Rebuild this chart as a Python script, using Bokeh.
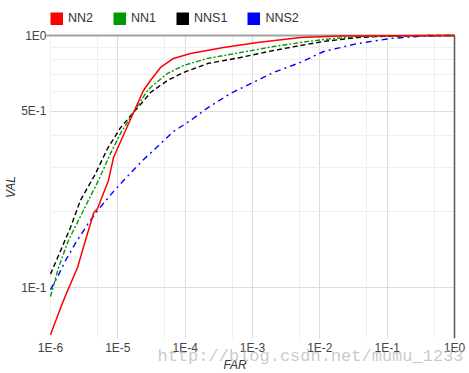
from bokeh.plotting import figure
from bokeh.models import (FixedTicker, CustomJSTickFormatter, Range1d,
                          Legend, LegendItem, Label, BoxAnnotation)
from bokeh.embed import file_html
from bokeh.resources import INLINE

# ---- data ----
far_nn2 = [1.0e-6, 1.41e-6, 1.79e-6, 2.52e-6, 3.31e-6, 4.36e-6, 4.99e-6, 7.26e-6,
           8.63e-6, 1.17e-5, 1.71e-5, 2.40e-5, 3.05e-5, 4.31e-5, 6.71e-5, 1.20e-4,
           3.71e-4, 1.19e-3, 5.16e-3, 2.03e-2, 1.0]
val_nn2 = [0.065, 0.083, 0.097, 0.120, 0.154, 0.197, 0.206, 0.266, 0.328, 0.394,
           0.495, 0.605, 0.663, 0.747, 0.811, 0.849, 0.896, 0.938, 0.982, 0.995, 1.0]

far_nn1 = [1.0e-6, 1.315e-6, 1.85e-6, 2.61e-6, 3.66e-6, 5.16e-6, 7.78e-6, 1.096e-5,
           1.71e-5, 2.58e-5, 3.05e-5, 5.47e-5, 9.44e-5, 2.15e-4, 6.64e-4, 2.05e-3,
           5.16e-3, 1.135e-2, 3.63e-2, 0.313, 1.0]
val_nn1 = [0.092, 0.120, 0.154, 0.185, 0.222, 0.266, 0.340, 0.409, 0.495, 0.589,
           0.622, 0.707, 0.760, 0.811, 0.856, 0.904, 0.938, 0.964, 0.991, 1.0, 1.0]

far_nns1 = [1.0e-6, 1.41e-6, 1.98e-6, 2.79e-6, 4.66e-6, 7.03e-6, 1.096e-5, 1.71e-5,
            2.58e-5, 3.05e-5, 5.47e-5, 9.44e-5, 2.15e-4, 6.64e-4, 2.05e-3, 5.16e-3,
            1.135e-2, 3.63e-2, 0.112, 0.44, 1.0]
val_nns1 = [0.113, 0.140, 0.173, 0.222, 0.283, 0.356, 0.431, 0.495, 0.562, 0.594,
            0.663, 0.713, 0.774, 0.818, 0.872, 0.913, 0.947, 0.982, 0.995, 1.0, 1.0]

far_nns2 = [1.0e-6, 1.27e-6, 1.67e-6, 2.35e-6, 3.66e-6, 4.99e-6, 8.34e-6, 1.30e-5,
            2.32e-5, 3.62e-5, 6.71e-5, 1.20e-4, 2.15e-4, 4.71e-4, 6.64e-4, 2.05e-3,
            5.16e-3, 1.135e-2, 3.63e-2, 0.112, 0.347, 1.0]
val_nns2 = [0.098, 0.110, 0.128, 0.150, 0.180, 0.202, 0.238, 0.271, 0.319, 0.356,
            0.416, 0.460, 0.516, 0.589, 0.616, 0.713, 0.782, 0.864, 0.929, 0.973,
            0.995, 1.0]

x_ticks = [1e-6, 1e-5, 1e-4, 1e-3, 1e-2, 1e-1, 1.0]
x_minor = [5e-6, 5e-5, 5e-4, 5e-3, 5e-2, 5e-1]
y_ticks = [0.1, 0.5, 1.0]
y_minor = [0.2, 0.3, 0.4, 0.6, 0.7, 0.8, 0.9]

series_names = ["NN2", "NN1", "NNS1", "NNS2"]
series_colors = ["#ff0000", "#009900", "#000000", "#0000ff"]
series_far = [far_nn2, far_nn1, far_nns1, far_nns2]
series_val = [val_nn2, val_nn1, val_nns1, val_nns2]

FONT = "Liberation Sans"

# Plot region: FAR 1e-6..1 over x 50..454 px, VAL 1..0.0639 over y 35..336 px.
# The frame covers the whole canvas; the ranges are widened to keep that mapping.
XPX = 67.333   # px per decade on x
YPX = 252.0    # px per decade on y
X_LO, X_HI = 1e-6, 1.0
Y_LO, Y_HI = 0.0639, 1.0
x_range = Range1d(10 ** (-6 - 50 / XPX), 10 ** (15 / XPX))
y_range = Range1d(10 ** (-(373 - 35) / YPX), 10 ** (35 / YPX))

p = figure(width=469, height=373, x_axis_type="log", y_axis_type="log",
           x_range=x_range, y_range=y_range,
           output_backend="svg", toolbar_location=None, min_border=0,
           min_border_left=0, min_border_right=0, min_border_top=0,
           min_border_bottom=0)
p.outline_line_color = None
p.background_fill_color = "white"
p.border_fill_color = "white"

fmt = CustomJSTickFormatter(code="""
const e = Math.floor(Math.log10(tick) + 1e-9);
const m = Math.round(tick / Math.pow(10, e));
return m + "E" + e;
""")

for ax in (p.xaxis[0], p.yaxis[0]):
    ax.formatter = fmt
    ax.axis_line_color = None
    ax.major_tick_line_color = None
    ax.minor_tick_line_color = None
    ax.major_tick_out = 0
    ax.minor_tick_out = 0
    ax.major_tick_in = 0
    ax.minor_tick_in = 0
    ax.major_label_text_font = FONT
    ax.major_label_text_font_size = "12px"
    ax.major_label_text_color = "#444444"
    ax.axis_label_text_font = FONT
    ax.axis_label_text_font_size = "12px"
    ax.axis_label_text_font_style = "italic"
    ax.axis_label_text_color = "#333333"

p.xaxis.fixed_location = Y_LO
p.yaxis.fixed_location = X_LO
p.xaxis.ticker = FixedTicker(ticks=x_ticks, minor_ticks=x_minor)
p.yaxis.ticker = FixedTicker(ticks=y_ticks, minor_ticks=y_minor)
p.xaxis.axis_label = "FAR"
p.yaxis.axis_label = "VAL"
p.xaxis.major_label_standoff = 4
p.xaxis.axis_label_standoff = 0
p.yaxis.major_label_standoff = 4
p.yaxis.axis_label_standoff = 0

p.xgrid.ticker = FixedTicker(ticks=x_ticks, minor_ticks=x_minor)
p.ygrid.ticker = FixedTicker(ticks=y_ticks, minor_ticks=y_minor)
for g in (p.xgrid[0], p.ygrid[0]):
    g.grid_line_color = "#dcdcdc"
    g.grid_line_width = 1
    g.minor_grid_line_color = "#eeeeee"
    g.minor_grid_line_width = 1

# mask grid lines outside the plot region
for kw in (dict(bottom=Y_HI), dict(top=Y_LO * 0.985), dict(right=X_LO), dict(left=X_HI)):
    p.add_layout(BoxAnnotation(fill_color="white", fill_alpha=1, line_color=None,
                               level="underlay", **kw))

# top border line at VAL=1 (with small tick to the left) and dark line at FAR=1
dy = 10 ** (1.0 / YPX)
dx = 10 ** (0.75 / XPX)
p.add_layout(BoxAnnotation(left=X_LO / 10 ** (4 / XPX), right=X_HI,
                           bottom=Y_HI / dy, top=Y_HI * dy,
                           fill_color="#a0a0a0", fill_alpha=1, line_color=None,
                           level="underlay"))
p.add_layout(BoxAnnotation(left=X_HI / dx, right=X_HI * dx,
                           bottom=Y_LO * 0.985, top=Y_HI,
                           fill_color="#555555", fill_alpha=1, line_color=None,
                           level="underlay"))

p.line(far_nns2, val_nns2, line_color=series_colors[3], line_width=1.4, line_dash="6 4 2 4")
p.line(far_nns1, val_nns1, line_color=series_colors[2], line_width=1.4, line_dash="5 3")
p.line(far_nn1, val_nn1, line_color=series_colors[1], line_width=1.4, line_dash="5 2 2 2")
p.line(far_nn2, val_nn2, line_color=series_colors[0], line_width=1.5)

# legend swatches: hidden thick lines so the legend shows filled squares
items = []
for name, col, fx, fy in zip(series_names, series_colors, series_far, series_val):
    r = p.line(fx, fy, line_color=col, line_width=13, visible=False)
    items.append(LegendItem(label=name, renderers=[r]))

legend = Legend(items=items, orientation="horizontal", location=(50, 348),
                glyph_width=13, glyph_height=13, label_standoff=5, spacing=20,
                padding=0, margin=0, border_line_color=None,
                background_fill_alpha=0, inactive_fill_alpha=0,
                label_text_font=FONT, label_text_font_size="12.5px",
                label_text_color="#333333", label_height=13, label_width=10)
p.add_layout(legend, "center")

p.add_layout(Label(x=3.88e-5, y=0.05324, text="http://blog.csdn.net/mumu_1233",
                   text_font="Liberation Mono", text_font_size="17px",
                   text_color="#b8b8b8", text_alpha=0.75,
                   text_baseline="alphabetic", level="overlay"))

open("out.html", "w").write(file_html(p, INLINE))
